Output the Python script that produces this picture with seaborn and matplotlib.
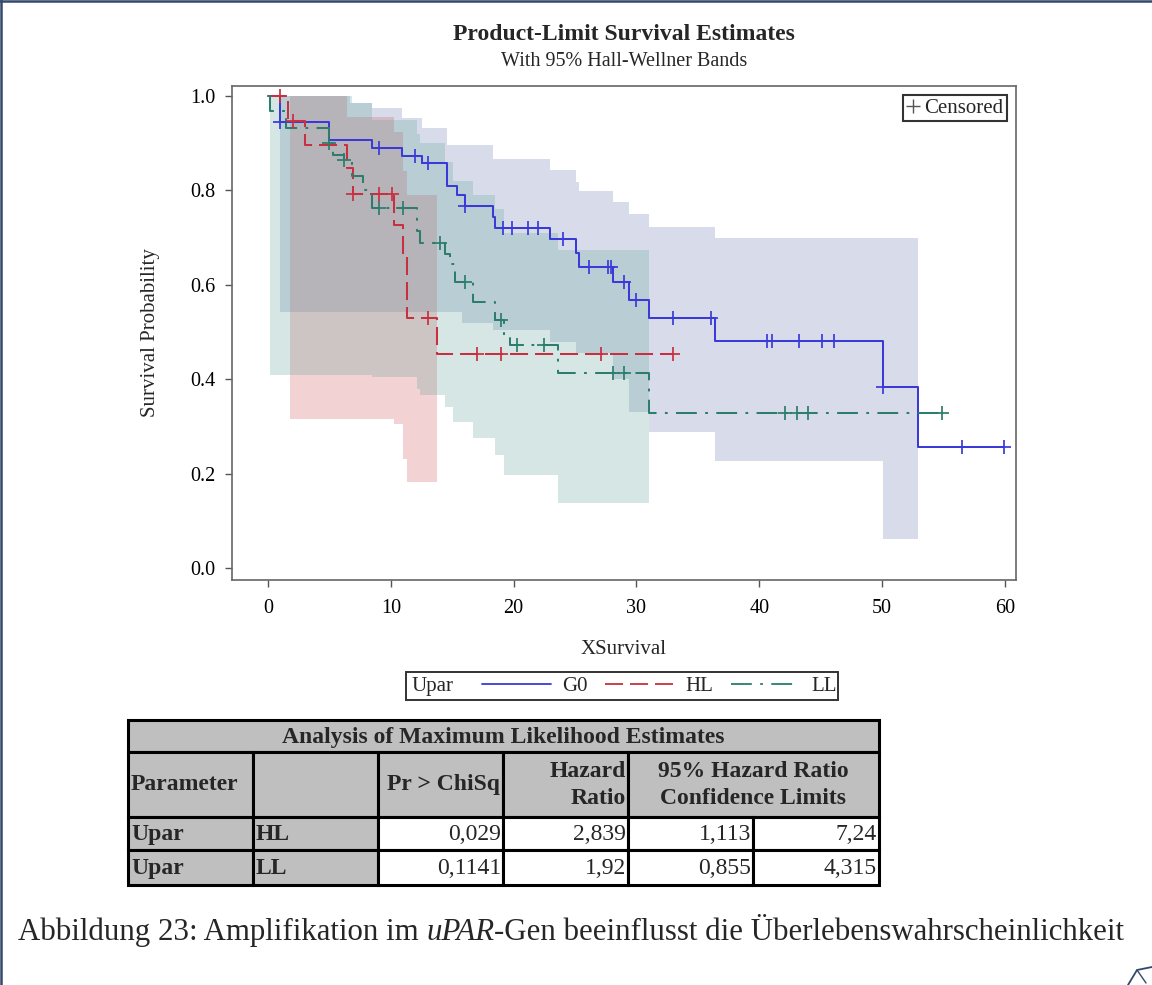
import numpy as np
import pandas as pd
import matplotlib
matplotlib.use('Agg')
import matplotlib.pyplot as plt
from matplotlib.lines import Line2D
from matplotlib.patches import Rectangle
import seaborn as sns

# Kaplan-Meier step curves (time, survival after the step)
g0_times = [0, 1.0, 5.0, 8.5, 10.9, 12.5, 14.6, 15.4, 16.0, 18.3, 18.5, 23.0, 25.1, 25.3, 28.1, 29.4, 31.0, 36.4, 50.1, 52.9]
g0_surv = [1.0, 0.945, 0.907, 0.89, 0.873, 0.858, 0.81, 0.79, 0.767, 0.744, 0.72, 0.697, 0.667, 0.638, 0.606, 0.568, 0.53, 0.481, 0.384, 0.256]
g0_last = 59.9
g0_censored = [1.0, 9.0, 12.0, 13.0, 16.0, 19.1, 19.9, 21.2, 22.0, 24.0, 26.1, 27.7, 27.9, 29.0, 30.0, 33.0, 36.1,
               40.6, 41.0, 43.2, 45.1, 46.1, 50.1, 56.5, 59.9]

hl_times = [0, 1.6, 3.0, 6.4, 6.9, 10.3, 11.0, 11.3, 13.8]
hl_surv = [1.0, 0.947, 0.896, 0.847, 0.792, 0.727, 0.66, 0.53, 0.453]
hl_last = 33.0
hl_censored = [1.0, 2.0, 6.9, 9.0, 10.1, 13.0, 17.0, 19.0, 27.1, 33.0]

ll_times = [0, 0.2, 1.5, 5.0, 5.3, 6.2, 6.8, 7.7, 8.5, 12.1, 12.4, 14.4, 14.8, 15.2, 16.7, 18.5, 19.2, 19.7, 23.6, 31.0]
ll_surv = [1.0, 0.968, 0.932, 0.90, 0.875, 0.864, 0.83, 0.80, 0.763, 0.714, 0.688, 0.665, 0.645, 0.606, 0.564, 0.525,
           0.487, 0.472, 0.413, 0.328]
ll_last = 54.9
ll_censored = [5.0, 6.2, 9.0, 11.0, 14.0, 16.0, 19.0, 20.3, 22.5, 28.1, 29.0, 42.1, 43.1, 44.0, 54.9]

# Hall-Wellner bands (step start, lower, upper), last value held to band end
g0_band_t = [1.0, 6.7, 8.5, 10.9, 12.5, 14.6, 15.8, 18.3, 23.0, 25.1, 25.3, 28.1, 29.4, 31.0, 36.4, 50.1]
g0_band_lo = [0.542, 0.542, 0.542, 0.542, 0.542, 0.542, 0.519, 0.504, 0.479, 0.455, 0.455, 0.40, 0.33, 0.288, 0.227, 0.061]
g0_band_hi = [1.0, 0.985, 0.975, 0.953, 0.932, 0.896, 0.896, 0.867, 0.843, 0.818, 0.799, 0.775, 0.75, 0.722, 0.70, 0.70]
g0_band_end = 52.9

hl_band_t = [1.8, 6.4, 10.3, 11.0, 11.3]
hl_band_lo = [0.316, 0.316, 0.305, 0.23, 0.182]
hl_band_hi = [1.0, 0.955, 0.924, 0.84, 0.79]
hl_band_end = 13.8

ll_band_t = [0.2, 6.8, 8.5, 12.1, 12.4, 14.4, 15.1, 16.7, 18.5, 19.2, 23.6]
ll_band_lo = [0.409, 0.409, 0.405, 0.38, 0.367, 0.342, 0.31, 0.275, 0.239, 0.197, 0.138]
ll_band_hi = [1.0, 0.985, 0.95, 0.92, 0.90, 0.86, 0.82, 0.79, 0.76, 0.71, 0.674]
ll_band_end = 31.0

groups = ['G0', 'HL', 'LL']
line_colors = ['#3a3ad8', '#c8303f', '#2c7d6c']
band_colors = ['#6f7eb3', '#d05b5b', '#66a5a0']
dash_styles = [None, (13, 5), (15, 6, 2, 6)]

# Table contents
table_title = 'Analysis of Maximum Likelihood Estimates'
table_params = ['Upar', 'Upar']
table_levels = ['HL', 'LL']
table_pvalues = ['0,029', '0,1141']
table_hr = ['2,839', '1,92']
table_hr_low = ['1,113', '0,855']
table_hr_high = ['7,24', '4,315']

sns.set_style('ticks')
plt.rcParams['font.family'] = ['Liberation Serif', 'DejaVu Serif']
plt.rcParams['lines.scale_dashes'] = False

W, H = 1152, 985
fig = plt.figure(figsize=(W / 100, H / 100), dpi=100)
fig.patch.set_facecolor('white')

# page overlay in pixel units (drawn first, so the plot sits on top)
page = fig.add_axes([0, 0, 1, 1])
page.set_xlim(0, W)
page.set_ylim(H, 0)
page.axis('off')

ax = fig.add_axes([232 / W, (H - 580) / H, (1016 - 232) / W, (580 - 86) / H])

curves = [
    (g0_times, g0_surv, g0_last, g0_censored, g0_band_t, g0_band_lo, g0_band_hi, g0_band_end),
    (hl_times, hl_surv, hl_last, hl_censored, hl_band_t, hl_band_lo, hl_band_hi, hl_band_end),
    (ll_times, ll_surv, ll_last, ll_censored, ll_band_t, ll_band_lo, ll_band_hi, ll_band_end),
]

# bands first
for (times, surv, last, cens, bt, blo, bhi, bend), col in zip(curves, band_colors):
    bx = np.append(bt, bend)
    ax.fill_between(bx, np.append(blo, blo[-1]), np.append(bhi, bhi[-1]),
                    step='post', color=col, alpha=0.27, linewidth=0, zorder=1)

handles = []
for (times, surv, last, cens, bt, blo, bhi, bend), grp, col, dash in zip(curves, groups, line_colors, dash_styles):
    df = pd.DataFrame({'time': times + [last], 'surv': surv + [surv[-1]]})
    kws = dict(color=col, linewidth=1.45, zorder=3)
    if dash is not None:
        kws['dashes'] = dash
    sns.lineplot(data=df, x='time', y='surv', drawstyle='steps-post', estimator=None,
                 sort=False, ax=ax, **kws)
    # censored observations sit on the curve
    idx = np.searchsorted(times, cens, side='right') - 1
    cdf = pd.DataFrame({'time': cens, 'surv': np.array(surv)[idx]})
    sns.scatterplot(data=cdf, x='time', y='surv', marker='+', s=110, color=col,
                    linewidth=1.25, ax=ax, zorder=4)
    h = Line2D([], [], color=col, linewidth=1.3)
    if dash is not None:
        h.set_dashes(dash)
    handles.append(h)

ax.set_xlim(-2.93, 60.9)
ax.set_ylim(-0.0254, 1.021)
ax.set_xticks(range(0, 61, 10))
ax.set_yticks(np.arange(0, 1.01, 0.2))
ax.set_yticklabels([f'{v:.1f}' for v in np.arange(0, 1.01, 0.2)])
ax.tick_params(axis='both', labelsize=14.5, length=5, width=1, color='#555555', labelcolor='black')
ax.tick_params(axis='y', pad=7)
ax.tick_params(axis='x', pad=9)
for sp in ax.spines.values():
    sp.set_visible(True)
    sp.set_color('#666666')
    sp.set_linewidth(1.2)

ax.set_xlabel('XSurvival', fontsize=15)
ax.set_ylabel('Survival Probability', fontsize=15)
ax.xaxis.set_label_coords(0.5, (580 - 650) / 494)
ax.xaxis.label.set_va('center')
ax.yaxis.set_label_coords((150 - 232) / 784, 0.5)
ax.yaxis.label.set(va='center', ha='center', rotation_mode='anchor')

cens_leg = ax.legend(handles=[Line2D([], [], marker='+', color='#555555', linestyle='None', markersize=10, markeredgewidth=1)],
                     labels=['Censored'], loc='upper right', fontsize=15, frameon=True, fancybox=False,
                     edgecolor='#333333', handlelength=0.7, handletextpad=0.2, borderpad=0.15,
                     borderaxespad=0.45, framealpha=1)
cens_leg.get_frame().set_linewidth(1.5)

# titles
fig.text(624 / W, 1 - 35 / H, 'Product-Limit Survival Estimates', ha='center', va='center',
         fontsize=17, fontweight='bold')
fig.text(624 / W, 1 - 61 / H, 'With 95% Hall-Wellner Bands', ha='center', va='center', fontsize=14.5)

# group legend below the plot
page.add_patch(Rectangle((406, 672), 432, 28, fill=False, edgecolor='#333333', lw=1.4))
page.text(411, 686, 'Upar', ha='left', va='center', fontsize=15)
fig.legend(handles, groups, loc='center left', bbox_to_anchor=(482 / W, 1 - 686 / H), ncol=3,
           frameon=False, fontsize=15, handlelength=3.3, handletextpad=0.55, columnspacing=0.85,
           borderpad=0, borderaxespad=0)

# table
gray = '#bfbfbf'
cols = [128, 253, 378, 503, 628, 753, 879]
rows = [720, 752, 817, 850, 885]
tfs = 17


def cell(x0, x1, y0, y1, fill):
    page.add_patch(Rectangle((x0, y0), x1 - x0, y1 - y0, facecolor=fill, edgecolor='black', lw=2.2))


cell(cols[0], cols[6], rows[0], rows[1], gray)
page.text((cols[0] + cols[6]) / 2, (rows[0] + rows[1]) / 2 + 1, table_title, ha='center', va='center',
          fontsize=tfs, fontweight='bold')
for i in range(4):
    cell(cols[i], cols[i + 1], rows[1], rows[2], gray)
cell(cols[4], cols[6], rows[1], rows[2], gray)
ymid = (rows[1] + rows[2]) / 2
page.text(cols[0] + 3, ymid, 'Parameter', ha='left', va='center', fontsize=tfs, fontweight='bold')
page.text(cols[3] - 3, ymid, 'Pr > ChiSq', ha='right', va='center', fontsize=tfs, fontweight='bold')
page.text(cols[4] - 2, ymid - 13, 'Hazard', ha='right', va='center', fontsize=tfs, fontweight='bold')
page.text(cols[4] - 2, ymid + 14, 'Ratio', ha='right', va='center', fontsize=tfs, fontweight='bold')
page.text((cols[4] + cols[6]) / 2, ymid - 13, '95% Hazard Ratio', ha='center', va='center', fontsize=tfs,
          fontweight='bold')
page.text((cols[4] + cols[6]) / 2, ymid + 14, 'Confidence Limits', ha='center', va='center', fontsize=tfs,
          fontweight='bold')

for r in range(2):
    y0, y1 = rows[2 + r], rows[3 + r]
    ym = (y0 + y1) / 2 + 1
    cell(cols[0], cols[1], y0, y1, gray)
    cell(cols[1], cols[2], y0, y1, gray)
    page.text(cols[0] + 3, ym, table_params[r], ha='left', va='center', fontsize=tfs, fontweight='bold')
    page.text(cols[1] + 3, ym, table_levels[r], ha='left', va='center', fontsize=tfs, fontweight='bold')
    vals = [table_pvalues[r], table_hr[r], table_hr_low[r], table_hr_high[r]]
    for c, v in enumerate(vals):
        cell(cols[2 + c], cols[3 + c], y0, y1, 'white')
        page.text(cols[3 + c] - 2, ym, v, ha='right', va='center', fontsize=tfs)

# caption with italic gene name
renderer = fig.canvas.get_renderer()
pieces = [('Abbildung 23: Amplifikation im ', 'normal'), ('uPAR', 'italic'),
          ('-Gen beeinflusst die Überlebenswahrscheinlichkeit', 'normal')]
cap_fs = 20
texts = []
x = 18
for s, style in pieces:
    t = page.text(x, 932, s, ha='left', va='center', fontsize=cap_fs, fontstyle=style)
    bb = t.get_window_extent(renderer)
    x += bb.width
    texts.append(t)
# stretch the font so the line spans the same width as in the document
scale = (1128 - 18) / (x - 18)
x = 18
for t in texts:
    t.set_fontsize(cap_fs * scale)
    t.set_x(x)
    x += t.get_window_extent(renderer).width

# document frame lines and corner mark
navy = '#34486a'
page.plot([1, 1], [0, H], color=navy, lw=1.8)
page.plot([0, W], [1, 1], color=navy, lw=1.8)
page.plot([1128, 1137, 1152], [985, 970, 967], color=navy, lw=1.3)
page.plot([1137, 1146], [970, 983], color=navy, lw=1.0)

fig.savefig('out.png', dpi=100, facecolor='white')
